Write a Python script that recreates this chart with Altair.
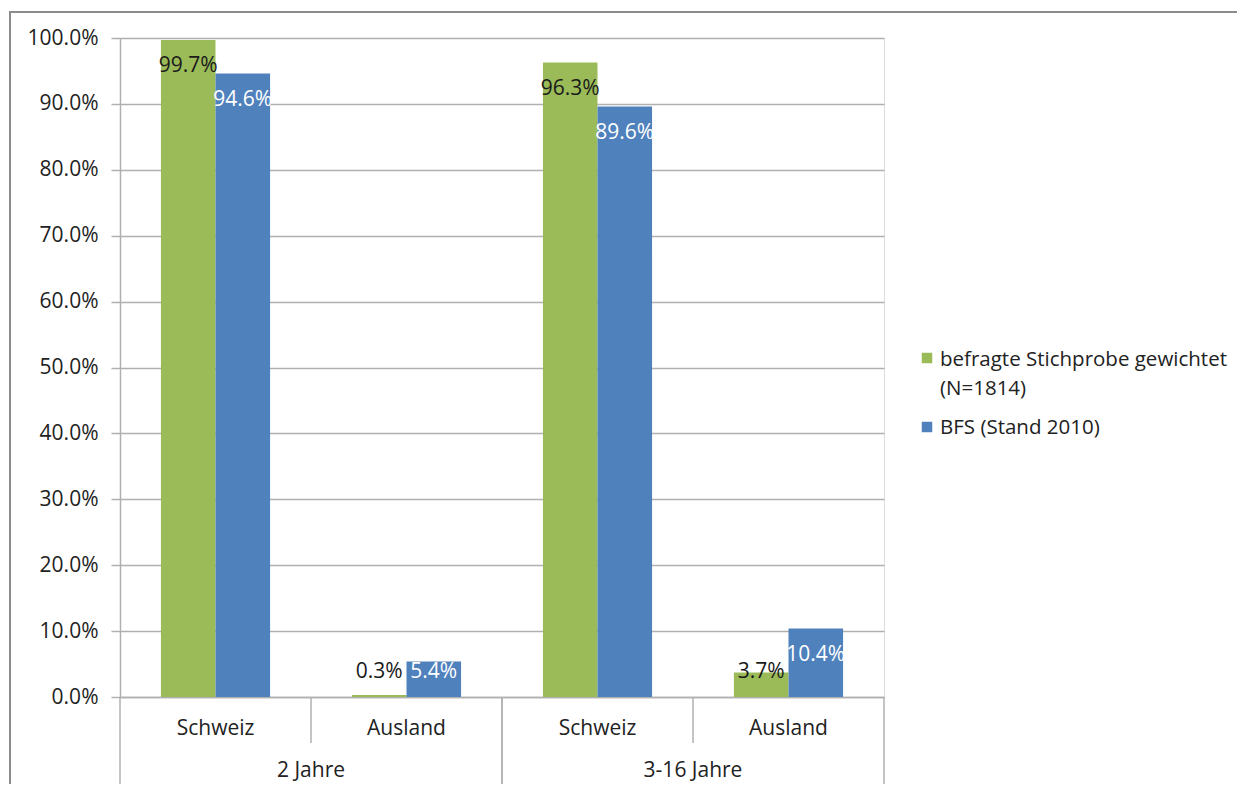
import altair as alt
import pandas as pd

groups = ["2 Jahre", "2 Jahre", "3-16 Jahre", "3-16 Jahre"]
lands = ["Schweiz", "Ausland", "Schweiz", "Ausland"]
series_names = ["befragte Stichprobe gewichtet (N=1814)", "BFS (Stand 2010)"]
legend_texts = ["befragte Stichprobe gewichtet\n(N=1814)", "BFS (Stand 2010)"]
stichprobe = [99.7, 0.3, 96.3, 3.7]
bfs = [94.6, 5.4, 89.6, 10.4]
colors = ["#9BBB59", "#4F81BD"]
y_ticks = [0, 10, 20, 30, 40, 50, 60, 70, 80, 90, 100]

cats = [g + "|" + l for g, l in zip(groups, lands)]
rows = []
for s, vals in zip(series_names, [stichprobe, bfs]):
    for c, g, l, v in zip(cats, groups, lands, vals):
        rows.append({"cat": c, "group": g, "land": l, "series": s, "value": v})
df = pd.DataFrame(rows)
cat_df = pd.DataFrame({"cat": cats, "group": groups, "land": lands})

W, H = 764, 659
FONT = "Open Sans"
FS = 21
LFS = 20.5
GRID = "#b0b0b0"
TXT = "#222222"

xscale = alt.Scale(domain=cats, paddingInner=0, paddingOuter=0)

bars = alt.Chart(df).mark_bar().encode(
    x=alt.X("cat:N", scale=xscale, sort=cats,
            axis=alt.Axis(title=None, labels=False, ticks=False, domainColor=GRID,
                          domainWidth=1.5, grid=False)),
    xOffset=alt.XOffset("series:N", sort=series_names,
                        scale=alt.Scale(domain=series_names, paddingOuter=0.75, paddingInner=0)),
    y=alt.Y("value:Q", scale=alt.Scale(domain=[0, 100], nice=False),
            axis=alt.Axis(title=None, values=y_ticks, labelExpr="format(datum.value, '.1f') + '%'",
                          gridColor=GRID, gridWidth=1.5, domainColor=GRID, domainWidth=1.5,
                          tickColor=GRID, tickWidth=1.5, tickSize=9,
                          labelPadding=13, labelFont=FONT, labelFontSize=FS, labelColor=TXT)),
    color=alt.Color("series:N", sort=series_names,
                    scale=alt.Scale(domain=series_names, range=colors), legend=None),
)

labels = alt.Chart(df).transform_calculate(
    ly="max(datum.value - 4, 3.8)",
    lbl="format(datum.value, '.1f') + '%'",
).mark_text(font=FONT, fontSize=FS, baseline="middle").encode(
    x=alt.X("cat:N", scale=xscale, sort=cats),
    xOffset=alt.XOffset("series:N", sort=series_names),
    y=alt.Y("ly:Q"),
    text="lbl:N",
    color=alt.condition(alt.datum.series == series_names[1], alt.value("white"), alt.value("#1a1a1a")),
)

land_text = alt.Chart(cat_df).mark_text(font=FONT, fontSize=FS, baseline="middle", color=TXT).encode(
    x=alt.X("cat:N", scale=xscale, sort=cats),
    y=alt.value(H + 32),
    text="land:N",
)

first_land = alt.Chart(cat_df).transform_filter(alt.datum.land == "Schweiz")
last_land = alt.Chart(cat_df).transform_filter(alt.datum.land == "Ausland")

short_div = first_land.mark_rule(color=GRID, strokeWidth=1.5).encode(
    x=alt.X("cat:N", scale=xscale, sort=cats, bandPosition=1),
    y=alt.value(H), y2=alt.value(H + 46),
)
long_div_a = first_land.mark_rule(color=GRID, strokeWidth=1.5).encode(
    x=alt.X("cat:N", scale=xscale, sort=cats, bandPosition=0),
    y=alt.value(H), y2=alt.value(H + 100),
)
long_div_b = last_land.mark_rule(color=GRID, strokeWidth=1.5).encode(
    x=alt.X("cat:N", scale=xscale, sort=cats, bandPosition=1),
    y=alt.value(H), y2=alt.value(H + 100),
)
group_text = first_land.mark_text(font=FONT, fontSize=FS, baseline="middle", color=TXT).encode(
    x=alt.X("cat:N", scale=xscale, sort=cats, bandPosition=1),
    y=alt.value(H + 74),
    text="group:N",
)

# legend (drawn as marks so the first entry can wrap onto two lines)
leg1 = alt.Chart(pd.DataFrame({"t": [legend_texts[0]]}))
leg2 = alt.Chart(pd.DataFrame({"t": [legend_texts[1]]}))
leg_sym1 = leg1.mark_square(size=110, color=colors[0], opacity=1).encode(x=alt.value(807), y=alt.value(320))
leg_sym2 = leg2.mark_square(size=110, color=colors[1], opacity=1).encode(x=alt.value(807), y=alt.value(389))
leg_txt1 = leg1.mark_text(font=FONT, fontSize=LFS, color=TXT, align="left", baseline="middle",
                          lineBreak="\n", lineHeight=29).encode(x=alt.value(820), y=alt.value(322), text="t:N")
leg_txt2 = leg2.mark_text(font=FONT, fontSize=LFS, color=TXT, align="left", baseline="middle").encode(
    x=alt.value(820), y=alt.value(390), text="t:N")

frame = alt.Chart(pd.DataFrame({"k": [0]})).mark_rect(fillOpacity=0, stroke="#8c8c8c", strokeWidth=2).encode(
    x=alt.value(-110), x2=alt.value(1300), y=alt.value(-26), y2=alt.value(900)
)

chart = alt.layer(frame, bars, labels, land_text, short_div, long_div_a, long_div_b, group_text,
                  leg_sym1, leg_sym2, leg_txt1, leg_txt2).properties(
    width=W, height=H,
    autosize=alt.AutoSizeParams(type="none"),
    padding={"left": 112, "top": 30, "right": 353, "bottom": 87},
).configure_view(stroke=None).configure(background="white")

chart.save("out.html", embed_options={"renderer": "svg", "actions": False})
